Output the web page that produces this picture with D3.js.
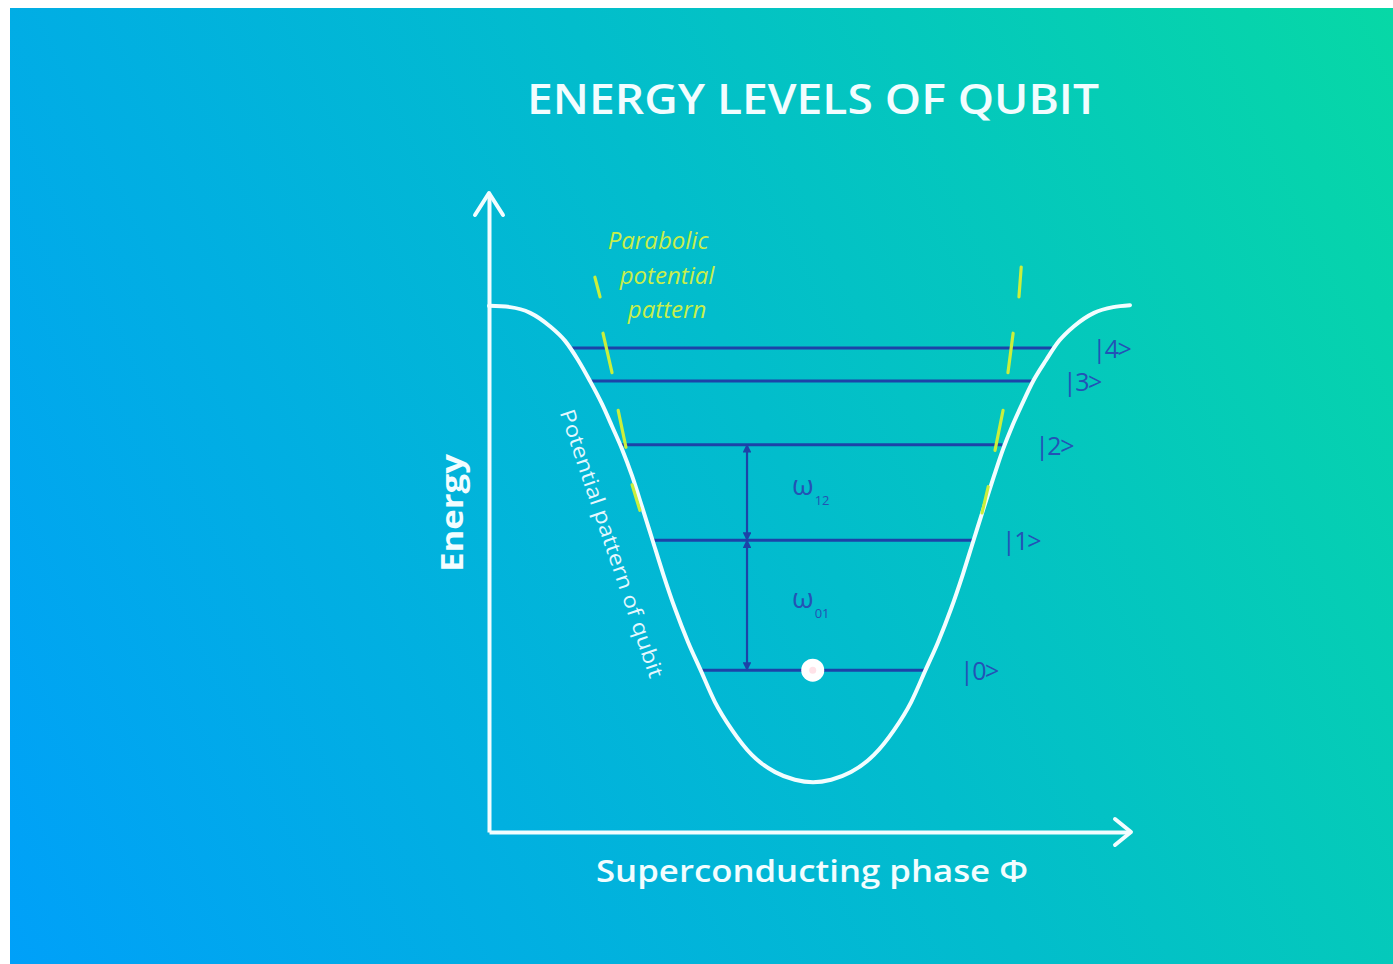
<!DOCTYPE html>
<html><head><meta charset="utf-8">
<script src="https://cdn.jsdelivr.net/npm/d3@7"></script>
<style>html,body{margin:0;padding:0;background:#fff;overflow:hidden}</style>
</head><body>
<svg id="c" width="1393" height="964"></svg>
<script>
// ---- data (phase in units of π, energy in arbitrary units 0..100) ----
const titleText = "ENERGY LEVELS OF QUBIT";
const xLabelText = "Superconducting phase Φ";
const yLabelText = "Energy";
const curveLabelText = "Potential pattern of qubit";
const parabolaLabelLines = ["Parabolic", "potential", "pattern"];

const curvePhase  = [-1.000,-0.935,-0.873,-0.812,-0.765,-0.725,-0.688,-0.651,-0.620,-0.589,-0.558,-0.527,-0.496,-0.462,-0.425,-0.385,-0.348,-0.302,-0.249,-0.188,-0.116,-0.055,0.001,
                     0.057,0.118,0.189,0.251,0.304,0.350,0.387,0.427,0.464,0.498,0.529,0.560,0.588,0.616,0.647,0.681,0.721,0.761,0.807,0.869,0.928,0.980];
const curveEnergy = [82.6,82.4,81.5,79.4,77.1,74.1,70.8,67.2,63.7,60.1,55.9,51.0,46.0,40.5,35.0,29.8,25.6,20.4,16.0,12.1,9.4,8.2,7.8,
                     8.2,9.4,12.1,16.0,20.4,25.6,29.8,35.0,40.5,46.0,51.0,55.9,60.1,63.7,67.2,70.8,74.1,77.1,79.4,81.5,82.4,82.7];

const levelNames  = ["|0>","|1>","|2>","|3>","|4>"];
const levelEnergy = [25.4, 45.8, 60.8, 70.8, 76.0];
const levelLeft   = [-0.348,-0.495,-0.595,-0.688,-0.750];
const levelRight  = [0.350, 0.499, 0.586, 0.681, 0.739];
const labelPhase  = [0.455, 0.585, 0.687, 0.773, 0.864];

const transitionPhase = -0.203;
const transitionNames = ["01","12"];
const transitionLabelPhase = -0.064;
const groundDotPhase = 0.0;

// yellow dashed "parabolic" guide segments
const dashPhase1  = [-0.673,-0.648,-0.601,-0.558, 0.644, 0.619, 0.588, 0.542];
const dashEnergy1 = [87.1, 78.3, 66.2, 54.5, 88.7, 78.3, 66.2, 54.2];
const dashPhase2  = [-0.657,-0.620,-0.577,-0.534, 0.637, 0.603, 0.563, 0.523];
const dashEnergy2 = [84.0, 72.1, 60.4, 50.5, 84.0, 72.1, 59.9, 50.1];

const curveLabelPhase = -0.626, curveLabelEnergy = 45.2;
const parabolaLabelPhase = [-0.478,-0.450,-0.450];
const parabolaLabelEnergy = [91.6, 86.0, 80.7];

// ---- drawing ----
const svg = d3.select("#c");
const W = 1393, H = 964;

const defs = svg.append("defs");
const g = defs.append("linearGradient").attr("id","bg")
  .attr("gradientUnits","userSpaceOnUse")
  .attr("x1",10).attr("y1",964).attr("x2",1508).attr("y2",250);
g.append("stop").attr("offset",0).attr("stop-color","#00a0f9");
g.append("stop").attr("offset",0.55).attr("stop-color","#02bdcc");
g.append("stop").attr("offset",1).attr("stop-color","#07d8a6");

svg.append("rect").attr("width",W).attr("height",H).attr("fill","#ffffff");
svg.append("rect").attr("x",10).attr("y",8).attr("width",W-10).attr("height",H-8).attr("fill","url(#bg)");

const x = d3.scaleLinear().domain([-1, 0.98]).range([489, 1130]);
const y = d3.scaleLinear().domain([0, 100]).range([832, 195]);

const white = "#f2fdff";

// axes (no ticks)
const xAxis = svg.append("g").attr("transform",`translate(0,${y(0)})`)
  .call(d3.axisBottom(x).tickValues([]).tickSizeOuter(0));
const yAxis = svg.append("g").attr("transform",`translate(${x(-1)},0)`)
  .call(d3.axisLeft(y).tickValues([]).tickSizeOuter(0));
[xAxis,yAxis].forEach(a=>a.select(".domain").attr("stroke",white).attr("stroke-width",4));

// arrowheads
const x0 = x(-1), y0 = y(0), xEnd = x(0.98), yEnd = y(100);
svg.append("polyline")
  .attr("points",`${x0-14},${yEnd+20} ${x0},${yEnd-2} ${x0+14},${yEnd+20}`)
  .attr("fill","none").attr("stroke",white).attr("stroke-width",4).attr("stroke-linejoin","round").attr("stroke-linecap","round");
svg.append("polyline")
  .attr("points",`${xEnd-15},${y0-13} ${xEnd+1},${y0} ${xEnd-15},${y0+13}`)
  .attr("fill","none").attr("stroke",white).attr("stroke-width",4).attr("stroke-linejoin","round").attr("stroke-linecap","round");

// energy levels
const levelColor = "#1c43a8";
svg.append("g").selectAll("line").data(levelNames).join("line")
  .attr("x1",(d,i)=>x(levelLeft[i])).attr("x2",(d,i)=>x(levelRight[i]))
  .attr("y1",(d,i)=>y(levelEnergy[i])).attr("y2",(d,i)=>y(levelEnergy[i]))
  .attr("stroke",levelColor).attr("stroke-width",3);

svg.append("g").selectAll("text").data(levelNames).join("text")
  .attr("x",(d,i)=>x(labelPhase[i])).attr("y",(d,i)=>y(levelEnergy[i])+10)
  .attr("font-family","Open Sans").attr("font-size",25).attr("letter-spacing",-1.5).attr("fill","#2352b6")
  .text(d=>d);

// transition arrows
const arrowMarker = defs.append("marker").attr("id","ah").attr("viewBox","0 0 10 10")
  .attr("refX",9).attr("refY",5).attr("markerWidth",4).attr("markerHeight",4)
  .attr("orient","auto-start-reverse").attr("markerUnits","strokeWidth");
arrowMarker.append("path").attr("d","M0,0L10,5L0,10z").attr("fill",levelColor);
[[0,1],[1,2]].forEach(([a,b])=>{
  svg.append("line")
    .attr("x1",x(transitionPhase)).attr("x2",x(transitionPhase))
    .attr("y1",y(levelEnergy[a])).attr("y2",y(levelEnergy[b]))
    .attr("stroke",levelColor).attr("stroke-width",2.2)
    .attr("marker-start","url(#ah)").attr("marker-end","url(#ah)");
});

// omega labels
transitionNames.forEach((nm,i)=>{
  const mid = (levelEnergy[i]+levelEnergy[i+1])/2;
  const t = svg.append("text")
    .attr("x",x(transitionLabelPhase)).attr("y",y(mid)+3)
    .attr("font-family","Open Sans").attr("font-size",28).attr("fill","#2453b4");
  t.append("tspan").text("ω");
  t.append("tspan").attr("font-size",13).attr("dx",1).attr("dy",10).text(nm);
});

// potential curve
const line = d3.line().x(d=>x(d[0])).y(d=>y(d[1])).curve(d3.curveMonotoneX);
svg.append("path").datum(curvePhase.map((p,i)=>[p,curveEnergy[i]]))
  .attr("d",line).attr("fill","none").attr("stroke",white).attr("stroke-width",4).attr("stroke-linecap","round");

// yellow parabola dashes
svg.append("g").selectAll("line").data(dashPhase1).join("line")
  .attr("x1",(d,i)=>x(dashPhase1[i])).attr("y1",(d,i)=>y(dashEnergy1[i]))
  .attr("x2",(d,i)=>x(dashPhase2[i])).attr("y2",(d,i)=>y(dashEnergy2[i]))
  .attr("stroke","#c9ef3c").attr("stroke-width",3.2).attr("stroke-linecap","round");

// ground state dot
svg.append("circle").attr("cx",x(groundDotPhase)).attr("cy",y(levelEnergy[0])).attr("r",11.5)
  .attr("fill","#ffffff");
svg.append("circle").attr("cx",x(groundDotPhase)).attr("cy",y(levelEnergy[0])).attr("r",3.5)
  .attr("fill","#ffe2e8");

// parabolic label
svg.append("g").selectAll("text").data(parabolaLabelLines).join("text")
  .attr("x",(d,i)=>x(parabolaLabelPhase[i])).attr("y",(d,i)=>y(parabolaLabelEnergy[i]))
  .attr("text-anchor","middle").attr("font-family","Open Sans").attr("font-style","italic")
  .attr("font-size",24).attr("fill","#c8ee4a").text(d=>d);

// curve label
svg.append("text")
  .attr("transform",`translate(${x(curveLabelPhase)},${y(curveLabelEnergy)}) rotate(71.3)`)
  .attr("text-anchor","middle").attr("dominant-baseline","middle")
  .attr("font-family","Open Sans").attr("font-size",21).attr("fill","#e4f8ff")
  .attr("textLength",282).attr("lengthAdjust","spacingAndGlyphs")
  .text(curveLabelText);

// title and axis labels
svg.append("text").attr("x",813).attr("y",114).attr("text-anchor","middle")
  .attr("font-family","Open Sans").attr("font-weight",600).attr("font-size",42)
  .attr("textLength",572).attr("lengthAdjust","spacingAndGlyphs")
  .attr("fill",white).text(titleText);

svg.append("text").attr("x",812).attr("y",882).attr("text-anchor","middle")
  .attr("font-family","Open Sans").attr("font-weight",600).attr("font-size",31)
  .attr("textLength",432).attr("lengthAdjust","spacingAndGlyphs")
  .attr("fill",white).text(xLabelText);

svg.append("text").attr("transform","translate(463,513) rotate(-90)").attr("text-anchor","middle")
  .attr("font-family","Open Sans").attr("font-weight",700).attr("font-size",30)
  .attr("textLength",118).attr("lengthAdjust","spacingAndGlyphs")
  .attr("fill",white).text(yLabelText);
</script>
</body></html>
